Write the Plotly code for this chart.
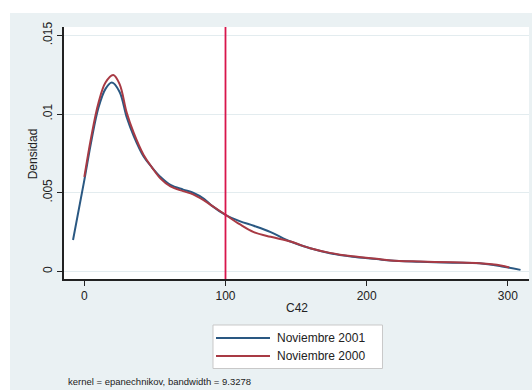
import plotly.graph_objects as go

# Kernel density estimates of C42 (density evaluated along the C42 grid)
x_2001 = [-8, 0, 5, 10, 15, 19.5, 25, 30, 35, 42, 48, 54, 61, 70, 77, 85, 90,
          100, 110, 120, 132, 146, 160, 174, 190, 207, 217, 238, 261, 280, 297, 309]
dens_2001 = [0.0020, 0.0058, 0.0083, 0.0104, 0.0116, 0.0120, 0.0114, 0.0098,
             0.0086, 0.0073, 0.0066, 0.0060, 0.0055, 0.0052, 0.0050, 0.0046,
             0.0042, 0.0036, 0.0032, 0.0029, 0.0025, 0.0019, 0.00147, 0.00116,
             0.00094, 0.00079, 0.00069, 0.00062, 0.00056, 0.00052, 0.00030, 0.00010]

x_2000 = [0, 5, 10, 15, 20.5, 25, 30, 35, 42, 48, 54, 61, 70, 77, 85, 90,
          100, 110, 120, 132, 146, 160, 174, 190, 207, 217, 238, 261, 280, 295, 301]
dens_2000 = [0.0060, 0.0086, 0.0107, 0.0120, 0.01248, 0.0119, 0.0101, 0.0088,
             0.0074, 0.0066, 0.0059, 0.0054, 0.0051, 0.0049, 0.0045, 0.0042,
             0.0036, 0.0030, 0.0025, 0.0022, 0.0019, 0.00147, 0.00118, 0.00096,
             0.00080, 0.00070, 0.00063, 0.00058, 0.00052, 0.00038, 0.00025]

series_names = ["Noviembre 2001", "Noviembre 2000"]
x_ticks = [0, 100, 200, 300]
y_ticks = [0, 0.005, 0.01, 0.015]
y_tick_text = ["0", ".005", ".01", ".015"]
ref_line = 100
note_text = "kernel = epanechnikov, bandwidth = 9.3278"

BLUE = "#2A5882"
RED = "#A83A44"
VLINE = "#D8164C"
BG = "#EAF1F3"
GRID = "#E3ECEF"
TXT = "#222222"
FONT = "Liberation Sans, Arial, sans-serif"

fig = go.Figure()
fig.add_trace(go.Scatter(x=x_2001, y=dens_2001, mode="lines", name=series_names[0],
                         line=dict(color=BLUE, width=2, shape="spline", smoothing=1.0),
                         showlegend=False))
fig.add_trace(go.Scatter(x=x_2000, y=dens_2000, mode="lines", name=series_names[1],
                         line=dict(color=RED, width=2, shape="spline", smoothing=1.0),
                         showlegend=False))

fig.add_vline(x=ref_line, line=dict(color=VLINE, width=1.8))

shapes = [
    # graph region fill
    dict(type="rect", xref="paper", yref="paper", x0=-0.1161, x1=1.0065,
         y0=-0.4405, y1=1.0556, fillcolor=BG, line=dict(width=0), layer="below"),
    # plot region fill
    dict(type="rect", xref="paper", yref="paper", x0=0, x1=1, y0=0, y1=1,
         fillcolor="white", line=dict(width=0), layer="below"),
    # legend frame
    dict(type="rect", xref="paper", yref="paper", x0=0.3204, x1=0.6849,
         y0=-0.3552, y1=-0.1825, fillcolor="white",
         line=dict(color="#C8C8C8", width=1), layer="above"),
    dict(type="line", xref="paper", yref="paper", x0=0.3269, x1=0.4430,
         y0=-0.2341, y1=-0.2341, line=dict(color=BLUE, width=2)),
    dict(type="line", xref="paper", yref="paper", x0=0.3269, x1=0.4430,
         y0=-0.3056, y1=-0.3056, line=dict(color=RED, width=2)),
]
for s in shapes:
    fig.add_shape(**s)

annotations = [
    dict(text=series_names[0], x=0.4538, y=-0.2341, xanchor="left", yanchor="middle"),
    dict(text=series_names[1], x=0.4538, y=-0.3056, xanchor="left", yanchor="middle"),
    dict(text="C42", x=0.5, y=-0.115, xanchor="center", yanchor="middle"),
    dict(text="Densidad", x=-0.066, y=0.496, xanchor="center", yanchor="middle",
         textangle=-90),
]
for a in annotations:
    fig.add_annotation(xref="paper", yref="paper", showarrow=False,
                       font=dict(family=FONT, size=12, color=TXT), **a)
fig.add_annotation(xref="paper", yref="paper", showarrow=False, text=note_text,
                   x=0.0043, y=-0.4048, xanchor="left", yanchor="middle",
                   font=dict(family=FONT, size=9.5, color=TXT))

fig.update_layout(
    width=532, height=391,
    margin=dict(l=64, r=3, t=27, b=112),
    paper_bgcolor="white",
    plot_bgcolor="white",
    font=dict(family=FONT, size=12, color=TXT),
    xaxis=dict(range=[-14.4, 315.0], tickvals=x_ticks, showgrid=False,
               zeroline=False, showline=True, linecolor="#222", linewidth=1.5,
               ticks="outside", ticklen=5, tickwidth=1.3, tickcolor="#222",
               tickfont=dict(size=12, color=TXT)),
    yaxis=dict(range=[-0.00048, 0.01553], tickvals=y_ticks, ticktext=y_tick_text,
               showgrid=True, gridcolor=GRID, gridwidth=1.2,
               zeroline=False, showline=True, linecolor="#222", linewidth=1.5,
               ticks="outside", ticklen=5, tickwidth=1.3, tickcolor="#222",
               tickangle=-90, tickfont=dict(size=12, color=TXT)),
)

fig.write_html("out.html")
